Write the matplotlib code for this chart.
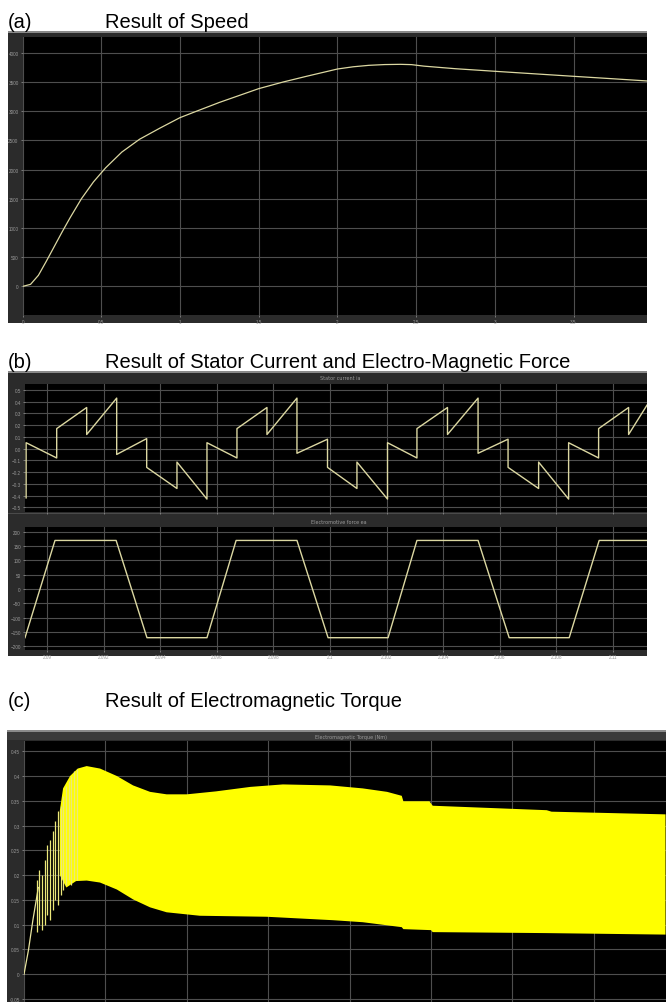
import numpy as np
import matplotlib.pyplot as plt
from matplotlib.patches import Rectangle

W, H = 666, 1003

# (a) speed
speed_t = [0, 0.05, 0.1, 0.15, 0.2, 0.25, 0.3, 0.373, 0.45, 0.527, 0.63,
           0.743, 0.872, 1.0, 1.105, 1.25, 1.5, 1.656, 1.8, 2.0, 2.1, 2.2, 2.3, 2.4,
           2.47, 2.55, 2.75, 3.0, 3.25, 3.5, 3.75, 3.97]
speed_v = [0, 35, 190, 430, 680, 930, 1170, 1500, 1790, 2030, 2300,
           2520, 2710, 2890, 3000, 3150, 3386, 3500, 3595, 3722, 3760, 3785, 3798, 3802,
           3797, 3771, 3727, 3683, 3640, 3597, 3555, 3517]
speed_xticks = [0, 0.5, 1, 1.5, 2, 2.5, 3, 3.5]
speed_xlabels = ["0", "0.5", "1", "1.5", "2", "2.5", "3", "3.5"]
speed_yticks = [0, 500, 1000, 1500, 2000, 2500, 3000, 3500, 4000]

# (b) stator current ia (duplicated times = switching jumps)
ia_t = [2.08926, 2.08926, 2.09034, 2.09034, 2.09140, 2.09140, 2.09246, 2.09246,
        2.09352, 2.09352, 2.09459, 2.09459, 2.09565, 2.09565, 2.09671, 2.09671,
        2.09777, 2.09777, 2.09883, 2.09883, 2.09991, 2.09991, 2.10095, 2.10095,
        2.10203, 2.10203, 2.10307, 2.10307, 2.10415, 2.10415, 2.10523, 2.10523,
        2.10629, 2.10629, 2.10737, 2.10737, 2.10843, 2.10843, 2.10949, 2.10949,
        2.11055, 2.11055, 2.11120]
ia_v = [-0.42, 0.05, -0.08, 0.17, 0.35, 0.12, 0.43, -0.05,
        0.085, -0.16, -0.34, -0.115, -0.43, 0.05, -0.08, 0.17,
        0.35, 0.12, 0.43, -0.04, 0.08, -0.16, -0.34, -0.115,
        -0.43, 0.05, -0.08, 0.17, 0.35, 0.12, 0.43, -0.04,
        0.08, -0.16, -0.34, -0.115, -0.43, 0.05, -0.08, 0.17,
        0.35, 0.12, 0.37]
ia_yticks = [-0.5, -0.4, -0.3, -0.2, -0.1, 0, 0.1, 0.2, 0.3, 0.4, 0.5]

# (b) back emf ea
ea_t = [2.08922, 2.09028, 2.09244, 2.09353, 2.09565, 2.09668, 2.09883, 2.09993,
        2.10205, 2.10307, 2.10523, 2.10633, 2.10845, 2.10951, 2.11120]
ea_v = [-170, 170, 170, -170, -170, 170, 170, -170, -170, 170, 170, -170, -170, 170, 170]
ea_yticks = [-200, -150, -100, -50, 0, 50, 100, 150, 200]
b_xticks = [2.09, 2.092, 2.094, 2.096, 2.098, 2.1, 2.102, 2.104, 2.106, 2.108, 2.11]
b_xlabels = ["2.09", "2.092", "2.094", "2.096", "2.098", "2.1", "2.102", "2.104",
             "2.106", "2.108", "2.11"]

# (c) torque envelope
tq_up_t = [0.22, 0.24, 0.283, 0.33, 0.385, 0.467, 0.57, 0.67, 0.774, 0.876, 1.0, 1.18,
           1.39, 1.59, 1.88, 2.08, 2.23, 2.32, 2.33, 2.49, 2.51, 3.21, 3.24, 3.94]
tq_up_v = [0.33, 0.375, 0.40, 0.415, 0.42, 0.415, 0.40, 0.381, 0.368, 0.363, 0.363, 0.369,
           0.378, 0.383, 0.381, 0.375, 0.368, 0.36, 0.349, 0.349, 0.34, 0.331, 0.328, 0.3226]
tq_lo_t = [0.22, 0.26, 0.32, 0.385, 0.467, 0.57, 0.67, 0.774, 0.876, 1.08, 1.49, 1.9,
           2.08, 2.32, 2.33, 2.50, 2.51, 3.21, 3.94]
tq_lo_v = [0.20, 0.175, 0.188, 0.189, 0.185, 0.171, 0.151, 0.135, 0.125, 0.118, 0.116, 0.109,
           0.105, 0.095, 0.091, 0.089, 0.085, 0.083, 0.080]
# start-up ramp and individual oscillation spikes
tq_ramp_t = [0, 0.027, 0.055, 0.088]
tq_ramp_v = [0, 0.048, 0.11, 0.175]
spike_t = [0.082, 0.094, 0.111, 0.127, 0.143, 0.16, 0.176, 0.192,
           0.209, 0.225, 0.242, 0.258, 0.274, 0.291, 0.307, 0.323]
spike_hi = [0.19, 0.21, 0.20, 0.23, 0.26, 0.27, 0.29, 0.31,
            0.33, 0.34, 0.36, 0.38, 0.39, 0.40, 0.41, 0.415]
spike_lo = [0.085, 0.10, 0.09, 0.10, 0.12, 0.11, 0.13, 0.15,
            0.14, 0.16, 0.17, 0.18, 0.19, 0.18, 0.19, 0.19]
tq_yticks = [-0.05, 0, 0.05, 0.1, 0.15, 0.2, 0.25, 0.3, 0.35, 0.4, 0.45]
tq_ylabels = ["-0.05", "0", "0.05", "0.1", "0.15", "0.2", "0.25", "0.3", "0.35", "0.4", "0.45"]
tq_xticks = [0, 0.5, 1, 1.5, 2, 2.5, 3, 3.5]

frame_col = "#2b2b2b"
grid_col = "#4e4e4e"
tick_col = "#9a9a9a"
trace_col = "#dcd8a2"


def box(x0, y0, x1, y1):
    return [x0 / W, 1 - y1 / H, (x1 - x0) / W, (y1 - y0) / H]


def frame(fig, x0, y0, x1, y1, color=frame_col):
    l, b, w, h = box(x0, y0, x1, y1)
    fig.add_artist(Rectangle((l, b), w, h, transform=fig.transFigure,
                             facecolor=color, edgecolor="none", zorder=0))


def scope(ax, xticks, yticks, xlabels=None, ylabels=None):
    ax.set_facecolor("black")
    ax.set_xticks(xticks)
    ax.set_yticks(yticks)
    if xlabels is None:
        ax.set_xticklabels([])
    else:
        ax.set_xticklabels(xlabels)
    if ylabels is not None:
        ax.set_yticklabels(ylabels)
    ax.grid(True, color=grid_col, lw=0.8)
    ax.set_axisbelow(True)
    ax.tick_params(labelsize=3.3, colors=tick_col, length=1.5, width=0.5, pad=1.5)
    for s in ax.spines.values():
        s.set_visible(False)


plt.rcParams["font.family"] = ["Liberation Sans", "DejaVu Sans"]
fig = plt.figure(figsize=(W / 100, H / 100), dpi=100)
fig.patch.set_facecolor("white")

title_fs = 14.5


def heading(fig, y, tag, text):
    fig.text(8 / W, 1 - y / H, tag, fontsize=title_fs, va="baseline", ha="left")
    fig.text(105 / W, 1 - y / H, text, fontsize=title_fs, va="baseline", ha="left")


# ---- (a) ----
heading(fig, 28, "(a)", "Result of Speed")
frame(fig, 8, 33, 647, 324)
frame(fig, 8, 32, 647, 34, color="#8a8a8a")
ax1 = fig.add_axes(box(22.7, 38, 647, 316))
ax1.plot(speed_t, speed_v, color=trace_col, lw=0.9)
ax1.set_xlim(0, 3.967)
ax1.set_ylim(-490, 4270)
scope(ax1, speed_xticks, speed_yticks, speed_xlabels)

# ---- (b) ----
heading(fig, 368, "(b)", "Result of Stator Current and Electro-Magnetic Force")
frame(fig, 8, 373, 647, 657)
frame(fig, 8, 372, 647, 374, color="#8a8a8a")
fig.text(340 / W, 1 - 379 / H, "Stator current ia", fontsize=3.5, color=tick_col,
         ha="center", va="center", family="DejaVu Sans")
ax2 = fig.add_axes(box(25, 385, 647, 513))
ax2.plot(ia_t, ia_v, color=trace_col, lw=1.0)
ax2.set_xlim(2.08922, 2.1112)
ax2.set_ylim(-0.54, 0.55)
scope(ax2, b_xticks, ia_yticks)

frame(fig, 8, 514, 647, 515, color="#4a4a4a")
fig.text(339 / W, 1 - 523 / H, "Electromotive force ea", fontsize=3.5, color=tick_col,
         ha="center", va="center", family="DejaVu Sans")
ax3 = fig.add_axes(box(25, 528, 647, 651))
ax3.plot(ea_t, ea_v, color=trace_col, lw=1.0)
ax3.set_xlim(2.08922, 2.1112)
ax3.set_ylim(-213, 217)
scope(ax3, b_xticks, ea_yticks, b_xlabels)

# ---- (c) ----
heading(fig, 707, "(c)", "Result of Electromagnetic Torque")
frame(fig, 7, 732, 666, 1003)
frame(fig, 7, 731, 666, 733, color="#8a8a8a")
frame(fig, 7, 733, 666, 741, color="#3a3a3a")
fig.text(351 / W, 1 - 737.5 / H, "Electromagnetic Torque (Nm)", fontsize=3.5,
         color=tick_col, ha="center", va="center", family="DejaVu Sans")
ax4 = fig.add_axes(box(24, 742, 666, 1003))
poly_t = tq_up_t + tq_lo_t[::-1]
poly_v = tq_up_v + tq_lo_v[::-1]
ax4.fill(poly_t, poly_v, color="#ffff00", lw=0, zorder=3)
ax4.plot(tq_ramp_t, tq_ramp_v, color="#e8e4a0", lw=0.9, zorder=3)
ax4.vlines(spike_t, spike_lo, spike_hi, color="#ece87a", lw=0.9, zorder=3)
ax4.set_xlim(0, 3.943)
ax4.set_ylim(-0.056, 0.4706)
scope(ax4, tq_xticks, tq_yticks, None, tq_ylabels)

fig.savefig("out.png", dpi=100)
